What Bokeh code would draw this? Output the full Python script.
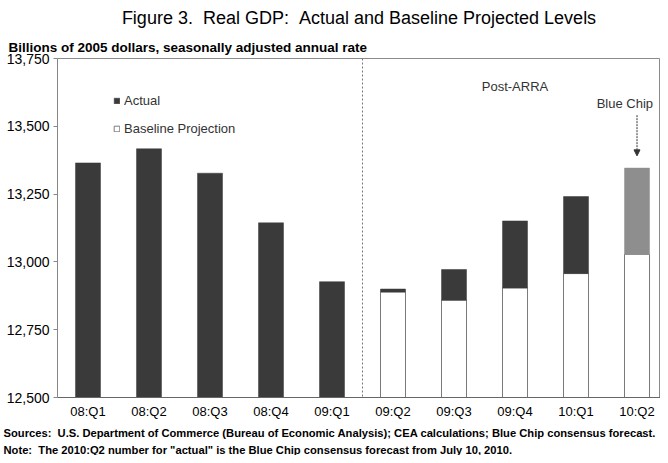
from bokeh.plotting import figure
from bokeh.models import (ColumnDataSource, Range1d, FixedTicker, NumeralTickFormatter,
                          Legend, LegendItem, Span, Label, Arrow, NormalHead, Title)
from bokeh.embed import file_html
from bokeh.resources import INLINE

quarters = ["08:Q1", "08:Q2", "08:Q3", "08:Q4", "09:Q1",
            "09:Q2", "09:Q3", "09:Q4", "10:Q1", "10:Q2"]
actual = [13365, 13417, 13327, 13144, 12927, 12900, 12972, 13151, 13241, 13346]
baseline = [None, None, None, None, None, 12889, 12859, 12904, 12957, 13028]
y_ticks = [12500, 12750, 13000, 13250, 13500, 13750]
axis_floor = 12500

SANS = "'Liberation Sans', Arial, sans-serif"
NB = "\u00a0"

xs = list(range(len(quarters)))
pre = [i for i in xs if baseline[i] is None]
post = [i for i in xs if baseline[i] is not None]
post_mid = post[:-1]
post_last = post[-1:]

src_pre = ColumnDataSource(dict(x=pre, top=[actual[i] for i in pre],
                                bottom=[axis_floor] * len(pre)))
src_base = ColumnDataSource(dict(x=post, top=[baseline[i] for i in post],
                                 bottom=[axis_floor] * len(post)))
src_gap = ColumnDataSource(dict(x=post_mid, top=[actual[i] for i in post_mid],
                                bottom=[baseline[i] for i in post_mid]))
src_bc = ColumnDataSource(dict(x=post_last, top=[actual[i] for i in post_last],
                               bottom=[baseline[i] for i in post_last]))

p = figure(width=660, height=455, output_backend="svg", toolbar_location=None,
           title=None, x_range=Range1d(-0.5, 9.385),
           y_range=Range1d(y_ticks[0], y_ticks[-1]),
           min_border_left=57, min_border_right=0, min_border_top=0, min_border_bottom=0)

p.background_fill_color = "white"
p.border_fill_color = "white"
p.outline_line_color = "#8a8a8a"
p.xgrid.visible = False
p.ygrid.visible = False

W = 0.41
DARK = "#3a3a3a"
r_pre = p.vbar(x="x", top="top", bottom="bottom", width=W, source=src_pre,
               fill_color=DARK, line_color=DARK, line_width=0.5)
r_base = p.vbar(x="x", top="top", bottom="bottom", width=W, source=src_base,
                fill_color="white", line_color="#7a7a7a", line_width=1)
p.vbar(x="x", top="top", bottom="bottom", width=W, source=src_gap,
       fill_color=DARK, line_color=DARK, line_width=0.5)
p.vbar(x="x", top="top", bottom="bottom", width=W, source=src_bc,
       fill_color="#8e8e8e", line_color="#8e8e8e", line_width=0.5)

# divider
p.add_layout(Span(location=len(pre) - 0.5, dimension="height", line_color="#777777",
                  line_dash="2 2", line_width=1))

# axes
p.yaxis.ticker = FixedTicker(ticks=y_ticks)
p.yaxis.formatter = NumeralTickFormatter(format="0,0")
p.yaxis.major_label_text_font = SANS
p.yaxis.major_label_text_font_size = "14px"
p.yaxis.major_label_text_color = "black"
p.yaxis.axis_line_color = "#888888"
p.yaxis.major_tick_line_color = "#888888"
p.yaxis.major_tick_out = 4
p.yaxis.major_tick_in = 0
p.yaxis.minor_tick_line_color = None
p.yaxis.major_label_standoff = 4

p.xaxis.ticker = FixedTicker(ticks=xs)
p.xaxis.major_label_overrides = {i: q for i, q in enumerate(quarters)}
p.xaxis.major_label_text_font = SANS
p.xaxis.major_label_text_font_size = "13px"
p.xaxis.major_label_text_color = "black"
p.xaxis.axis_line_color = "#666666"
p.xaxis.major_tick_line_color = None
p.xaxis.minor_tick_line_color = None
p.xaxis.major_label_standoff = 0

# legend
legend = Legend(items=[LegendItem(label="Actual", renderers=[r_pre]),
                       LegendItem(label="Baseline Projection", renderers=[r_base])],
                location=(56, 261), orientation="vertical",
                label_text_font=SANS, label_text_font_size="13px",
                label_text_color="#333333", glyph_width=7, glyph_height=7,
                label_height=16, spacing=12, label_standoff=4,
                background_fill_alpha=0, border_line_color=None, padding=0, margin=0)
p.add_layout(legend)

# annotations
p.add_layout(Label(x=7.0, y=13645, text="Post-ARRA", text_align="center",
                   text_baseline="middle", text_font=SANS, text_font_size="13px",
                   text_color="#333333"))
p.add_layout(Label(x=8.8, y=13585, text="Blue Chip", text_align="center",
                   text_baseline="middle", text_font=SANS, text_font_size="13px",
                   text_color="#333333"))
p.add_layout(Arrow(end=NormalHead(size=6, fill_color="#333333", line_color="#333333"),
                   x_start=post_last[0], y_start=actual[-1] + 195,
                   x_end=post_last[0], y_end=actual[-1] + 45,
                   line_color="#333333", line_width=1, line_dash="2 1"))

# titles (later-added is farther out)
p.add_layout(Title(text="Billions of 2005 dollars, seasonally adjusted annual rate",
                   align="left", offset=-49, text_font=SANS, text_font_size="13.5px",
                   text_font_style="bold", text_color="black", standoff=8), "above")
p.add_layout(Title(text=f"Figure 3.{NB}{NB}Real GDP:{NB}{NB}Actual and Baseline Projected Levels",
                   align="center", offset=30, text_font=SANS, text_font_size="18px",
                   text_font_style="normal", text_color="black", standoff=11), "above")

p.add_layout(Title(text=f"Sources:{NB}{NB}U.S. Department of Commerce (Bureau of Economic Analysis); CEA calculations; Blue Chip consensus forecast.",
                   align="left", offset=-54, text_font=SANS, text_font_size="11.2px",
                   text_font_style="bold", text_color="black", standoff=6), "below")
p.add_layout(Title(text=f"Note:{NB}{NB}The 2010:Q2 number for \"actual\" is the Blue Chip consensus forecast from July 10, 2010.",
                   align="left", offset=-54, text_font=SANS, text_font_size="11.2px",
                   text_font_style="bold", text_color="black", standoff=0), "below")

open("out.html", "w").write(file_html(p, INLINE))
